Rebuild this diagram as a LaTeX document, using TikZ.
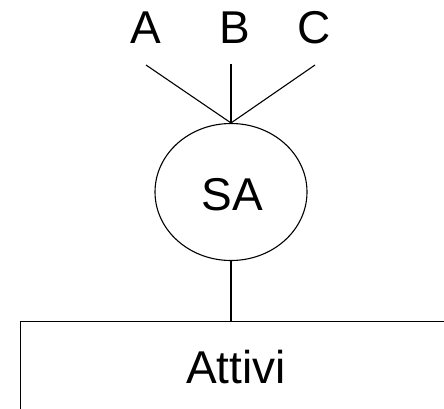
\documentclass[tikz,border=0pt]{standalone}
\usepackage{fontspec}
\setmainfont{Liberation Sans}
\usetikzlibrary{shapes.geometric}
\begin{document}
\begin{tikzpicture}[x=1pt,y=-1pt,line width=1.1pt,
  lbl/.style={inner sep=0pt,anchor=base,font=\fontsize{46}{50}\selectfont},
  blob/.style={draw,ellipse,inner sep=0pt,minimum width=152pt,minimum height=137pt}]
\useasboundingbox (0,0) rectangle (444,408);
\clip (0,0) rectangle (444,408);
\node[lbl] (a) at (146,43) {A};
\node[lbl] (b) at (235,43) {B};
\node[lbl] (c) at (314,43) {C};
\node[blob] (sa) at (231,192) {};
\node[lbl] (satext) at (232,210) {SA};
\node[draw,anchor=north west,minimum width=440pt,minimum height=110pt,inner sep=0pt] (box) at (20,321) {};
\node[lbl] (att) at (236,383) {Attivi};
\coordinate (ea) at (146,65);
\coordinate (eb) at (231,64);
\coordinate (ec) at (315,65);
\draw (ea) -- (sa.north);
\draw (eb) -- (sa.north);
\draw (ec) -- (sa.north);
\draw (sa.south) -- (sa.south |- box.north);
\end{tikzpicture}
\end{document}
